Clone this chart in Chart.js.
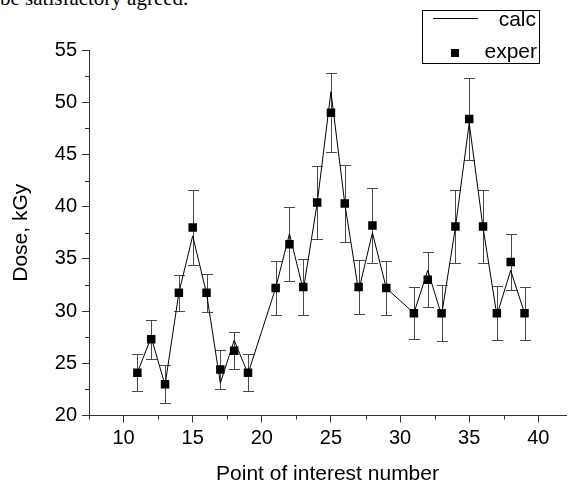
<!DOCTYPE html>
<html>
<head>
<meta charset="utf-8">
<script src="https://cdn.jsdelivr.net/npm/chart.js@4.4.1/dist/chart.umd.min.js"></script>
<style>
  body { margin: 0; background: #fff; }
  #wrap { position: relative; width: 572px; height: 485px; overflow: hidden; }
  #texto-topo {
    position: absolute; left: 0; top: -13px;
    font-family: "Liberation Serif", "Times New Roman", serif;
    font-size: 21px; line-height: 22px; color: #000; white-space: nowrap;
  }
  canvas { position: absolute; left: 0; top: 0; }
</style>
</head>
<body>
<div id="wrap">
  <div id="texto-topo">be satisfactory agreed.</div>
  <canvas id="grafico-dose" width="572" height="485"></canvas>
</div>
<script>
// pontos de interesse (sem 10, 20 e 30)
const pontos = [11, 12, 13, 14, 15, 16, 17, 18, 19,
                21, 22, 23, 24, 25, 26, 27, 28, 29,
                31, 32, 33, 34, 35, 36, 37, 38, 39];

// dose calculada, kGy
const doseCalc = [24.1, 27.5, 22.9, 31.75, 37.2, 31.7, 23.1, 27.2, 24.0,
                  32.2, 37.4, 32.0, 40.3, 51.0, 40.3, 31.9, 37.5, 32.2,
                  29.8, 33.9, 29.6, 38.0, 48.0, 38.0, 29.6, 33.9, 29.8];

// dose experimental, kGy
const doseExper = [24.1, 27.3, 23.0, 31.75, 38.0, 31.75, 24.4, 26.2, 24.1,
                   32.2, 36.4, 32.3, 40.4, 49.0, 40.3, 32.3, 38.2, 32.2,
                   29.8, 33.0, 29.8, 38.1, 48.4, 38.1, 29.8, 34.7, 29.8];

// erro experimental (+/-)
const erroExper = [1.8, 1.85, 1.85, 1.7, 3.6, 1.8, 1.85, 1.75, 1.8,
                   2.6, 3.55, 2.65, 3.5, 3.8, 3.7, 2.6, 3.6, 2.6,
                   2.5, 2.65, 2.65, 3.5, 3.9, 3.45, 2.6, 2.7, 2.55];

const ticksX = [10, 15, 20, 25, 30, 35, 40];
const ticksY = [20, 25, 30, 35, 40, 45, 50, 55];

const fonte = "'Liberation Sans', Arial, sans-serif";

document.addEventListener('DOMContentLoaded', function () {
    const ctx = document.getElementById('grafico-dose').getContext('2d');

    // barras de erro, ticks menores e legenda com moldura
    const extras = {
        id: 'extras',
        beforeDatasetsDraw(chart) {
            const { ctx, scales: { x, y } } = chart;
            ctx.save();
            ctx.strokeStyle = '#4a4a4a';
            ctx.lineWidth = 1;
            pontos.forEach((p, i) => {
                const px = Math.round(x.getPixelForValue(p)) + 0.5;
                const topo = Math.round(y.getPixelForValue(doseExper[i] + erroExper[i])) + 0.5;
                const base = Math.round(y.getPixelForValue(doseExper[i] - erroExper[i])) + 0.5;
                ctx.beginPath();
                ctx.moveTo(px, topo); ctx.lineTo(px, base);
                ctx.moveTo(px - 5.5, topo); ctx.lineTo(px + 5.5, topo);
                ctx.moveTo(px - 5.5, base); ctx.lineTo(px + 5.5, base);
                ctx.stroke();
            });
            ctx.restore();
        },
        afterDraw(chart) {
            const { ctx, scales: { x, y }, chartArea } = chart;
            ctx.save();
            ctx.strokeStyle = '#333';
            ctx.lineWidth = 1;
            ctx.beginPath();
            // ticks menores no eixo x
            for (let v = x.min; v <= x.max; v += 5) {
                const px = Math.round(x.getPixelForValue(v)) + 0.5;
                ctx.moveTo(px, chartArea.bottom); ctx.lineTo(px, chartArea.bottom + 4);
            }
            // ticks menores no eixo y
            for (let v = y.min + 2.5; v < y.max; v += 5) {
                const py = Math.round(y.getPixelForValue(v)) + 0.5;
                ctx.moveTo(chartArea.left, py); ctx.lineTo(chartArea.left - 4, py);
            }
            ctx.stroke();

            // legenda
            ctx.strokeStyle = '#000';
            ctx.strokeRect(422.5, 10.5, 117, 53);
            ctx.beginPath();
            ctx.moveTo(433, 18.5); ctx.lineTo(478, 18.5);
            ctx.stroke();
            ctx.fillStyle = '#000';
            ctx.fillRect(451, 49, 8, 8);
            ctx.font = '21px ' + fonte;
            ctx.textAlign = 'right';
            ctx.textBaseline = 'alphabetic';
            ctx.fillText(chart.data.datasets[0].label, 536, 26);
            ctx.fillText(chart.data.datasets[1].label, 537, 58);
            ctx.restore();
        }
    };

    const graficoDose = new Chart(ctx, {
        type: 'scatter',
        data: {
            datasets: [{
                label: 'calc',
                type: 'line',
                data: pontos.map((p, i) => ({ x: p, y: doseCalc[i] })),
                borderColor: '#000',
                borderWidth: 1,
                pointRadius: 0,
                tension: 0,
                fill: false,
                order: 2
            }, {
                label: 'exper',
                data: pontos.map((p, i) => ({ x: p, y: doseExper[i] })),
                pointStyle: 'rect',
                pointRadius: 6,
                backgroundColor: '#000',
                borderColor: '#000',
                borderWidth: 0,
                order: 1
            }]
        },
        options: {
            responsive: false,
            animation: false,
            devicePixelRatio: 1,
            layout: { padding: { top: 50, right: 0, bottom: 0, left: 0 } },
            plugins: {
                legend: { display: false },
                tooltip: { enabled: false }
            },
            scales: {
                x: {
                    type: 'linear',
                    min: 7.5,
                    max: 42,
                    afterBuildTicks: (s) => { s.ticks = ticksX.map(v => ({ value: v })); },
                    afterFit: (s) => { s.height = 69.5; },
                    grid: { drawOnChartArea: false, drawTicks: true, tickLength: 7, tickColor: '#333' },
                    border: { display: true, color: '#333', width: 1 },
                    ticks: { color: '#000', padding: 4, font: { family: fonte, size: 20 } },
                    title: {
                        display: true, text: 'Point of interest number', color: '#000',
                        font: { family: fonte, size: 21, lineHeight: 1 }, padding: { top: 0, bottom: 0 }
                    }
                },
                y: {
                    min: 20,
                    max: 55,
                    afterBuildTicks: (s) => { s.ticks = ticksY.map(v => ({ value: v })); },
                    afterFit: (s) => { s.width = 89; },
                    grid: { drawOnChartArea: false, drawTicks: true, tickLength: 7, tickColor: '#333' },
                    border: { display: true, color: '#333', width: 1 },
                    ticks: { color: '#000', padding: 5, font: { family: fonte, size: 20 } },
                    title: {
                        display: true, text: 'Dose, kGy', color: '#000',
                        font: { family: fonte, size: 21, lineHeight: 1.2 }, padding: { top: 9, bottom: 0 }
                    }
                }
            }
        },
        plugins: [extras]
    });
});
</script>
</body>
</html>
